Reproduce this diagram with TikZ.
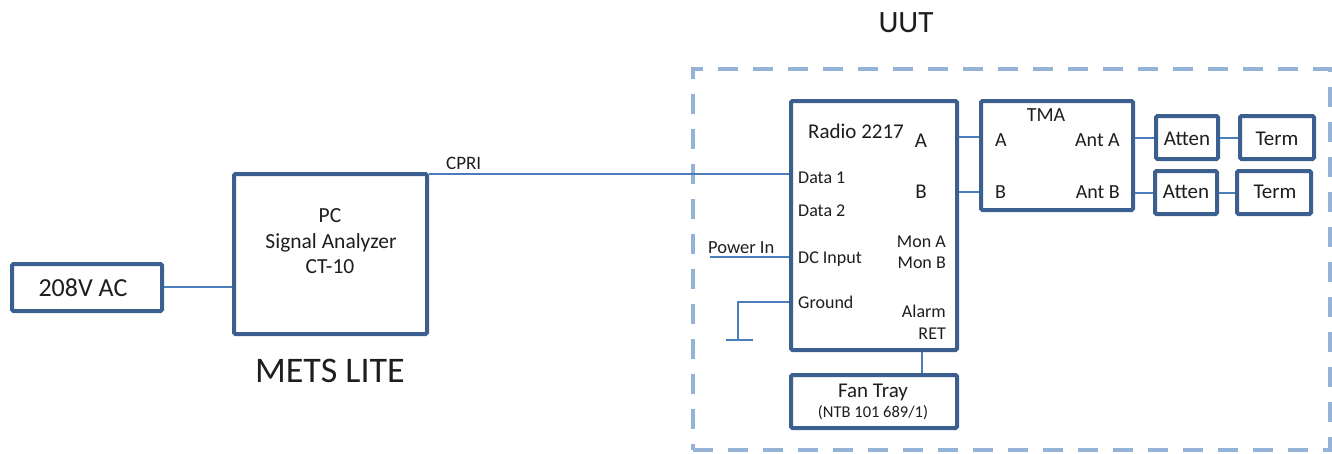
\documentclass[tikz,border=0pt]{standalone}
\usepackage{fontspec}
\setmainfont{Carlito}
\definecolor{boxc}{HTML}{3B5F8E}
\definecolor{linec}{HTML}{4A7EBB}
\definecolor{dashc}{HTML}{95B3D7}
\definecolor{txtc}{HTML}{1E1E1E}
\newcommand{\fs}[1]{\fontsize{#1}{#1}\selectfont}
\begin{document}
\begin{tikzpicture}[x=1pt,y=-1pt,
  box/.style={draw=boxc,line width=4pt,rounded corners=1.5pt,inner sep=0pt,anchor=north west,fill=white},
  conn/.style={draw=linec,line width=2pt},
  lbl/.style={inner sep=0pt,text=txtc,font=\fs{18}},
  big/.style={lbl,font=\fs{21}}]
\useasboundingbox (0,0) rectangle (1332,453);
% UUT dashed frame
\node[draw=dashc,line width=4pt,dash pattern=on 20pt off 15pt,inner sep=0pt,
  minimum width=637pt,minimum height=381pt,anchor=north west] (uut) at (691,67) {};
\node[lbl,font=\fs{31},anchor=base] (uutl) at (906,32) {UUT};
% boxes
\node[box,minimum width=150pt,minimum height=47pt] (ac) at (10,262) {};
\node[box,minimum width=193pt,minimum height=160pt] (pc) at (232,172) {};
\node[box,minimum width=166pt,minimum height=249pt] (radio) at (789,99) {};
\node[box,minimum width=166pt,minimum height=53pt] (fan) at (789,373) {};
\node[box,minimum width=152pt,minimum height=109pt] (tma) at (979,99) {};
\node[box,minimum width=62pt,minimum height=43pt] (at1) at (1154,114) {};
\node[box,minimum width=74pt,minimum height=43pt] (te1) at (1238,114) {};
\node[box,minimum width=62pt,minimum height=43pt] (at2) at (1153,169) {};
\node[box,minimum width=74pt,minimum height=43pt] (te2) at (1235,169) {};
% texts
\node[lbl,font=\fs{26},anchor=base] (act) at (83,296) {208V AC};
\node[big,font=\fs{21.5},anchor=base] (pc1) at (330,222) {PC};
\node[big,font=\fs{21.5},anchor=base] (pc2) at (331,248) {Signal Analyzer};
\node[big,font=\fs{21.5},anchor=base] (pc3) at (330,273) {CT-10};
\node[lbl,font=\fs{36},anchor=base] (mets) at (330,382) {METS LITE};
\node[lbl,font=\fs{19},anchor=base west] (cpri) at (446,169) {CPRI};
\node[lbl,font=\fs{18.5},anchor=base west] (pin) at (708,253) {Power In};
% radio texts
\node[big,anchor=base] (rt) at (856,138) {Radio 2217};
\node[big,anchor=base] (ra) at (921,147) {A};
\node[big,anchor=base] (rb) at (921,198) {B};
\node[lbl,anchor=base west] (d1) at (798,183) {Data 1};
\node[lbl,anchor=base west] (d2) at (798,216) {Data 2};
\node[lbl,anchor=base west] (dc) at (798,263) {DC Input};
\node[lbl,anchor=base west] (gr) at (798,308) {Ground};
\node[lbl,anchor=base east] (ma) at (946,247) {Mon A};
\node[lbl,anchor=base east] (mb) at (946,268) {Mon B};
\node[lbl,anchor=base east] (al) at (946,317) {Alarm};
\node[lbl,anchor=base east] (ret) at (946,339) {RET};
% fan tray texts
\node[big,anchor=base] (ft) at (873,397) {Fan Tray};
\node[lbl,font=\fs{16.5},anchor=base] (ntb) at (873,417) {(NTB 101 689/1)};
% TMA texts
\node[lbl,font=\fs{20},anchor=base] (tmat) at (1046,121) {TMA};
\node[lbl,font=\fs{20},anchor=base west] (ta) at (995,146) {A};
\node[lbl,font=\fs{20},anchor=base west] (tb) at (995,198) {B};
\node[lbl,font=\fs{20},anchor=base east] (taa) at (1120,146) {Ant A};
\node[lbl,font=\fs{20},anchor=base east] (tab) at (1120,198) {Ant B};
% atten / term texts
\node[big,anchor=base] (at1t) at (1187,145) {Atten};
\node[big,anchor=base] (te1t) at (1277,145) {Term};
\node[big,anchor=base] (at2t) at (1186,198) {Atten};
\node[big,anchor=base] (te2t) at (1275,198) {Term};
% free ends
\coordinate (pwr) at (710,257);
\coordinate (gcorner) at (738,302);
\coordinate (gnd) at (738,340);
\coordinate (gbl) at (726,340);
\coordinate (gbr) at (753,340);
% connectors
\draw[conn] (ac.east |- 0,287) -- (pc.west |- 0,287);
\draw[conn] (pc.east |- 0,174) -- (radio.west |- 0,174);
\draw[conn] (pwr) -- (radio.west |- pwr);
\draw[conn] (radio.west |- gcorner) -- (gcorner) -- (gnd);
\draw[conn] (gbl) -- (gbr);
\draw[conn] (radio.south -| 922,0) -- (fan.north -| 922,0);
\draw[conn] (radio.east |- 0,137) -- (tma.west |- 0,137);
\draw[conn] (radio.east |- 0,192) -- (tma.west |- 0,192);
\draw[conn] (tma.east |- at1) -- (at1);
\draw[conn] (at1) -- (te1);
\draw[conn] (tma.east |- at2) -- (at2);
\draw[conn] (at2) -- (te2);
\end{tikzpicture}
\end{document}
